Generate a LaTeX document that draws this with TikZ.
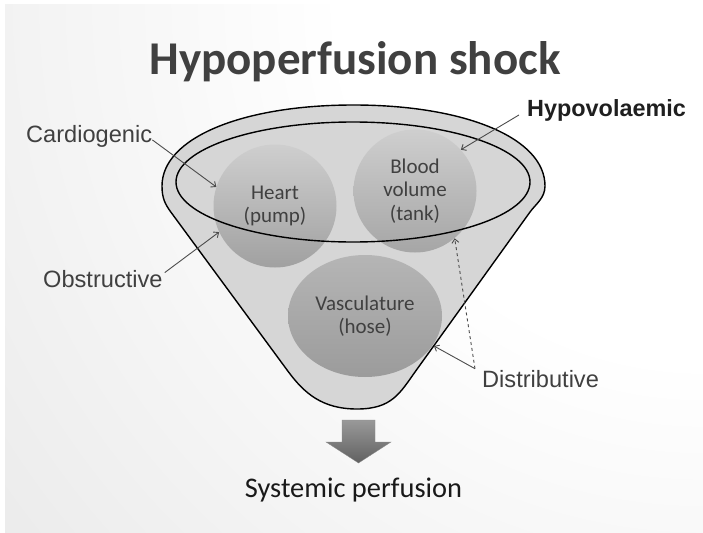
\documentclass[tikz,border=0pt]{standalone}
\usepackage{fontspec}
\setmainfont{Carlito}
\newfontfamily\arialf{Liberation Sans}
\usetikzlibrary{arrows.meta,shapes.geometric}
\pgfdeclareradialshading{bgshade}{\pgfpoint{0bp}{0bp}}{color(0bp)=(white); color(10bp)=(white); color(40bp)=(black!16); color(50bp)=(black!17)}
\begin{document}
\begin{tikzpicture}[x=1pt,y=-1pt,
  funnelline/.style={draw=black, line width=1.4pt},
  orb/.style={circle, inner sep=0pt, text=black!75, align=center, font=\fontsize{21}{23.5}\selectfont},
  conn/.style={draw=black!70, line width=0.9pt, -{Straight Barb[length=4pt,width=7pt]}},
  lbl/.style={font=\arialf\fontsize{23.6}{26}\selectfont, text=black!75, inner sep=0pt, anchor=base west}]
\useasboundingbox (0,0) rectangle (703,532);
% background
\fill[white] (0,0) rectangle (703,532);
\begin{scope}
  \clip (5,5) rectangle (703,532);
  \shade[shading=bgshade] (703,0) circle (900);
\end{scope}
% funnel
\path[funnelline, fill=black!16] (162,186) .. controls (162,138) and (242,105) .. (353.5,105)
  .. controls (465,105) and (545,138) .. (545,186)
  .. controls (545,198) and (535.8,204) .. (530,212)
  -- (415.7,371) .. controls (400,393) and (392,409) .. (357,409)
  .. controls (322,409) and (304,393) .. (287.8,371)
  -- (170.8,212) .. controls (165,204) and (162,198) .. (162,186) -- cycle;
% spheres
\node[orb, minimum size=123pt, top color=black!19, bottom color=black!37] (heart) at (275,206) {Heart\\(pump)};
\node[orb, minimum size=123pt, top color=black!19, bottom color=black!35] (blood) at (415,191) {Blood\\volume\\(tank)};
\node[orb, ellipse, minimum width=154pt, minimum height=122pt, top color=black!29, bottom color=black!39] (vasc) at (365,316) {Vasculature\\(hose)};
% inner ellipse
\draw[funnelline] (353,182) ellipse [x radius=177, y radius=60];
% block arrow
\shade[top color=black!40, bottom color=black!62, draw=black!45, line width=0.3pt]
  (342,420) -- (375,420) -- (375,442) -- (391,442) -- (358.5,463) -- (326,442) -- (342,442) -- cycle;
% texts
\node[font=\bfseries\fontsize{47}{52}\selectfont, text=black!75, anchor=base] (title) at (355,75) {Hypoperfusion shock};
\node[font=\fontsize{28.4}{32}\selectfont, text=black!90, anchor=base] (sys) at (353.5,497) {Systemic perfusion};
\node[lbl] (card) at (26,142) {Cardiogenic};
\node[lbl] (obst) at (43,287) {Obstructive};
\node[lbl] (dist) at (482,387) {Distributive};
\node[lbl, font=\arialf\bfseries\fontsize{23.4}{26}\selectfont, text=black!88] (hypo) at (527,117) {Hypovolaemic};
% connectors
\draw[conn] ([yshift=-4pt]card.east) -- (heart.162);
\draw[conn] ([xshift=2pt,yshift=6pt]obst.east) -- (heart.205);
\draw[conn] ([xshift=-8pt,yshift=-4pt]hypo.west) -- (blood.42);
\coordinate (dj) at ([xshift=-7pt,yshift=1pt]dist.north west);
\coordinate (fedge) at (434,346);
\draw[conn] (dj) -- (fedge);
\draw[conn, dashed] (dj) -- (blood.310);
\end{tikzpicture}
\end{document}
